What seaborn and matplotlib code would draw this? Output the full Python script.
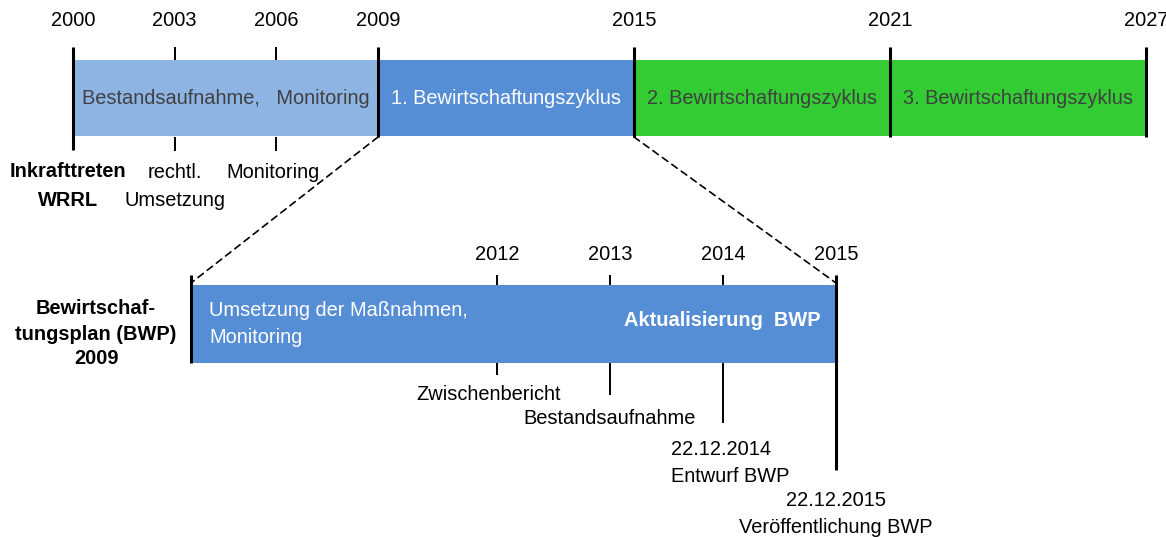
import numpy as np
import seaborn as sns
import matplotlib.pyplot as plt
from matplotlib.patches import ConnectionPatch

# Overall timeline (top)
top_years = [2000, 2003, 2006, 2009, 2015, 2021, 2027]
top_major = [2000, 2009, 2015, 2021, 2027]
top_minor = [2003, 2006]
phase_start = [2000, 2009, 2015, 2021]
phase_end = [2009, 2015, 2021, 2027]
phase_labels = ["Bestandsaufnahme,   Monitoring", "1. Bewirtschaftungszyklus",
                "2. Bewirtschaftungszyklus", "3. Bewirtschaftungszyklus"]
phase_colors = ["#8EB4E3", "#558ED5", "#33CC33", "#33CC33"]
phase_text_colors = ["#404040", "white", "#404040", "#404040"]
top_event_years = [2000, 2003, 2006]
top_event_labels = ["Inkrafttreten\nWRRL", "rechtl.\nUmsetzung", "Monitoring"]

# Zoomed first cycle (bottom)
bwp_start, bwp_end = 2009, 2015
bot_years = [2012, 2013, 2014, 2015]
bot_event_years = [2012, 2013, 2014, 2015]
bot_event_labels = ["Zwischenbericht", "Bestandsaufnahme",
                    "22.12.2014\nEntwurf BWP", "22.12.2015\nVeröffentlichung BWP"]

sns.set_theme(style="white")
plt.rcParams["font.family"] = ["Liberation Sans", "DejaVu Sans"]
plt.rcParams["text.color"] = "black"
FS = 14.4

W, H = 1166, 537
fig = plt.figure(figsize=(W / 100, H / 100), dpi=100)
fig.patch.set_facecolor("white")


def piecewise_scale(yrs, px):
    yrs = np.asarray(yrs, float)
    px = np.asarray(px, float)
    fwd = lambda v: np.interp(v, yrs, px)
    inv = lambda p: np.interp(p, px, yrs)
    return fwd, inv


def make_axes(fwd, inv):
    ax = fig.add_axes([0, 0, 1, 1])
    ax.set_xscale("function", functions=(fwd, inv))
    ax.set_xlim(inv(0), inv(W))
    ax.set_ylim(H, 0)
    ax.set_axis_off()
    ax.patch.set_alpha(0)
    return ax


# top axis: 2000-2009 compressed, 2009-2027 wider
tf, ti = piecewise_scale([1900, 2000, 2009, 2027, 2100],
                         [73 - 100 * 33.9, 73, 378, 1146, 1146 + 73 * 42.67])
ax = make_axes(tf, ti)

for s, e, lab, c, tc in zip(phase_start, phase_end, phase_labels, phase_colors, phase_text_colors):
    ax.barh(98, e - s, left=s, height=76, color=c, edgecolor="none", zorder=1)
    mid = ti((tf(s) + tf(e)) / 2)
    ax.text(mid, 98, lab, ha="center", va="center", color=tc, fontsize=FS)

for y in top_years:
    ax.text(y, 20, str(y), ha="center", va="center", fontsize=FS)
for y in top_major:
    ax.vlines(y, 47, 150 if y == top_major[0] else 137, color="black", lw=2.2, zorder=3)
for y in top_minor:
    ax.vlines(y, 47, 60, color="black", lw=1.4, zorder=3)
    ax.vlines(y, 137, 151, color="black", lw=1.4, zorder=3)

ax.text(top_event_years[0] - 0.15, 186, top_event_labels[0], ha="center", va="center",
        fontweight="bold", fontsize=FS, linespacing=1.65)
ax.text(top_event_years[1], 186, top_event_labels[1], ha="center", va="center",
        fontsize=FS, linespacing=1.6)
ax.text(top_event_years[2] - 0.1, 173, top_event_labels[2], ha="center", va="center", fontsize=FS)

# bottom axis: 2009-2015 detail
bf, bi = piecewise_scale([1900, 2009, 2012, 2015, 2100],
                         [191 - 109 * 102, 191, 497, 836, 836 + 85 * 113])
bx = make_axes(bf, bi)

bx.barh(324, bwp_end - bwp_start, left=bwp_start, height=78, color="#558ED5",
        edgecolor="none", zorder=1)
bx.annotate("Umsetzung der Maßnahmen,\nMonitoring", (bwp_start, 324), xytext=(18, 0),
            textcoords="offset pixels", ha="left", va="center", color="white",
            fontsize=FS, linespacing=1.55)
bx.annotate("Aktualisierung  BWP", (bwp_end, 321), xytext=(-16, 0),
            textcoords="offset pixels", ha="right", va="center", color="white",
            fontweight="bold", fontsize=FS)

bx.vlines(bwp_start, 275, 363, color="black", lw=2.2, zorder=3)
bot_tick_ends = [375, 395, 423, 470]
for y, yend in zip(bot_years, bot_tick_ends):
    bx.text(y, 255, str(y), ha="center", va="center", fontsize=FS)
    if y == bwp_end:
        bx.vlines(y, 275, yend, color="black", lw=2.2, zorder=3)
    else:
        bx.vlines(y, 275, 285, color="black", lw=1.4, zorder=3)
        bx.vlines(y, 363, yend, color="black", lw=1.4, zorder=3)

bx.annotate(bot_event_labels[0], (bot_event_years[0], 395), xytext=(-8, 0),
            textcoords="offset pixels", ha="center", va="center", fontsize=FS)
bx.text(bot_event_years[1], 418, bot_event_labels[1], ha="center", va="center", fontsize=FS)
bx.annotate(bot_event_labels[2], (bot_event_years[2], 463), xytext=(-52, 0),
            textcoords="offset pixels", ha="left", va="center", fontsize=FS, linespacing=1.5)
bx.text(bot_event_years[3], 514, bot_event_labels[3], ha="center", va="center",
        fontsize=FS, linespacing=1.55)

bx.text(bi(96), 334, "Bewirtschaf-\ntungsplan (BWP)\n2009", ha="center", va="center",
        fontweight="bold", fontsize=FS, linespacing=1.4)

# dashed zoom connectors
for yr in (bwp_start, bwp_end):
    con = ConnectionPatch(xyA=(yr, 137), coordsA=ax.transData,
                          xyB=(yr, 283), coordsB=bx.transData,
                          linestyle=(0, (4, 3)), color="black", lw=1.2)
    fig.add_artist(con)

fig.savefig("out.png", dpi=100)
